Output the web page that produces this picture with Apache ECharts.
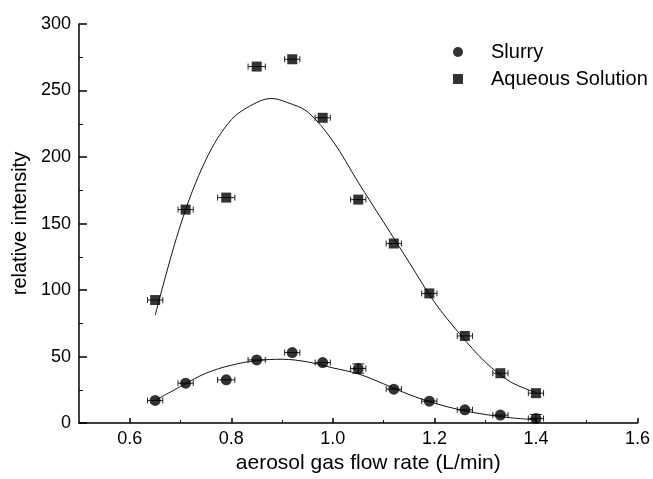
<!DOCTYPE html>
<html>
<head>
<meta charset="utf-8">
<script src="https://cdn.jsdelivr.net/npm/echarts@6/dist/echarts.min.js"></script>
<style>
html, body { margin: 0; padding: 0; background: #fff; }
#chart { width: 653px; height: 479px; }
</style>
</head>
<body>
<div id="chart"></div>
<script>
// measured points
var flowRate = [0.65, 0.71, 0.79, 0.85, 0.92, 0.98, 1.05, 1.12, 1.19, 1.26, 1.33, 1.40];
var slurry = [17, 30, 32.5, 47.5, 53, 45.5, 41, 25.5, 16.5, 10, 6, 3.5];
var aqueous = [92.5, 160.5, 169.5, 268, 273.5, 229.5, 168, 135, 97.5, 65.5, 37.5, 22.5];
var flowErr = [0.015, 0.015, 0.017, 0.017, 0.015, 0.015, 0.015, 0.015, 0.015, 0.015, 0.015, 0.015];
var slurryErr = [0, 0, 0, 0, 0, 0, 3.5, 0, 0, 0, 0, 3];
var aqueousErr = [0, 0, 0, 0, 0, 0, 0, 0, 0, 0, 0, 0];

// fitted curves
var slurryFitX = [0.65, 0.70, 0.75, 0.80, 0.85, 0.90, 0.95, 1.00, 1.05, 1.10, 1.15, 1.20, 1.25, 1.30, 1.35, 1.40];
var slurryFit = [17, 27.5, 37.5, 43.5, 47, 48, 46, 41.5, 37, 29.5, 21.5, 15, 10, 6.5, 4, 2.5];
var aqueousFitX = [0.65, 0.70, 0.75, 0.80, 0.85, 0.88, 0.91, 0.95, 1.00, 1.05, 1.10, 1.15, 1.20, 1.25, 1.30, 1.35, 1.40];
var aqueousFit = [81, 149, 198, 228, 241, 244, 241, 234, 212, 181, 151, 121, 91, 67, 46, 31, 23];

// axis ticks
var xMajor = [0.6, 0.8, 1.0, 1.2, 1.4, 1.6];
var xMinor = [0.7, 0.9, 1.1, 1.3, 1.5];

function pairs(xs, ys) {
	return xs.map(function(x, i) { return [x, ys[i]]; });
}
function errData(ys, yerr) {
	return flowRate.map(function(x, i) { return [x, ys[i], flowErr[i], yerr[i]]; });
}

function renderErr(params, api) {
	var x = api.value(0), y = api.value(1), dx = api.value(2), dy = api.value(3);
	var l = api.coord([x - dx, y]), r = api.coord([x + dx, y]);
	var st = { stroke: '#222', lineWidth: 1 };
	var kids = [
		{ type: 'line', shape: { x1: l[0], y1: l[1], x2: r[0], y2: r[1] }, style: st },
		{ type: 'line', shape: { x1: l[0], y1: l[1] - 3, x2: l[0], y2: l[1] + 3 }, style: st },
		{ type: 'line', shape: { x1: r[0], y1: r[1] - 3, x2: r[0], y2: r[1] + 3 }, style: st }
	];
	if (dy > 0) {
		var t = api.coord([x, y + dy]), b = api.coord([x, y - dy]);
		kids.push({ type: 'line', shape: { x1: t[0], y1: t[1], x2: b[0], y2: b[1] }, style: st });
		kids.push({ type: 'line', shape: { x1: t[0] - 6, y1: t[1], x2: t[0] + 6, y2: t[1] }, style: st });
		kids.push({ type: 'line', shape: { x1: b[0] - 6, y1: b[1], x2: b[0] + 6, y2: b[1] }, style: st });
	}
	return { type: 'group', children: kids };
}

var chart = echarts.init(document.getElementById('chart'));
var font = 'Liberation Sans, Arial, sans-serif';
var option = {
	animation: false,
	textStyle: { fontFamily: font, color: '#000' },
	grid: { left: 79, right: 13, top: 24, bottom: 54 },
	legend: {
		data: ['Slurry', 'Aqueous Solution'],
		orient: 'vertical',
		left: 453,
		top: 42,
		padding: 0,
		itemWidth: 10,
		itemHeight: 10,
		itemGap: 7,
		textStyle: { fontSize: 20, color: '#000', fontFamily: font, padding: [0, 0, 0, 23] }
	},
	xAxis: [{
		type: 'value',
		min: 0.5,
		max: 1.6,
		name: 'aerosol gas flow rate (L/min)',
		nameLocation: 'middle',
		nameGap: 29,
		nameTextStyle: { fontSize: 21, color: '#000', padding: [0, 0, 0, 20] },
		axisLine: { lineStyle: { color: '#000', width: 1.5 } },
		axisTick: { inside: true, length: 5, customValues: xMajor, lineStyle: { color: '#000', width: 1.5 } },
		axisLabel: { customValues: xMajor, fontSize: 18, color: '#000', margin: 7,
			formatter: function(v) { return v.toFixed(1); } },
		splitLine: { show: false }
	}, {
		type: 'value',
		min: 0.5,
		max: 1.6,
		position: 'bottom',
		axisLine: { show: false },
		axisTick: { inside: true, length: 3, customValues: xMinor, lineStyle: { color: '#000', width: 1 } },
		axisLabel: { show: false },
		splitLine: { show: false }
	}],
	yAxis: {
		type: 'value',
		min: 0,
		max: 300,
		interval: 50,
		name: 'relative intensity',
		nameLocation: 'middle',
		nameGap: 49,
		nameTextStyle: { fontSize: 20, color: '#000' },
		axisLine: { show: true, lineStyle: { color: '#000', width: 1.5 } },
		axisTick: { show: true, inside: true, length: 8, lineStyle: { color: '#000', width: 1.5 } },
		minorTick: { show: true, splitNumber: 2, length: 4, lineStyle: { color: '#000', width: 1 } },
		axisLabel: { fontSize: 18, color: '#000', margin: 8 },
		splitLine: { show: false }
	},
	series: [{
		name: 'slurry fit',
		type: 'line',
		data: pairs(slurryFitX, slurryFit),
		smooth: 0.35,
		showSymbol: false,
		lineStyle: { color: '#111', width: 1 },
		silent: true
	}, {
		name: 'aqueous fit',
		type: 'line',
		data: pairs(aqueousFitX, aqueousFit),
		smooth: 0.35,
		showSymbol: false,
		lineStyle: { color: '#111', width: 1 },
		silent: true
	}, {
		name: 'slurry err',
		type: 'custom',
		renderItem: renderErr,
		data: errData(slurry, slurryErr),
		z: 3
	}, {
		name: 'aqueous err',
		type: 'custom',
		renderItem: renderErr,
		data: errData(aqueous, aqueousErr),
		z: 3
	}, {
		name: 'Slurry',
		type: 'scatter',
		symbol: 'circle',
		symbolSize: 11,
		data: pairs(flowRate, slurry),
		itemStyle: { color: '#000' },
		z: 4
	}, {
		name: 'Aqueous Solution',
		type: 'scatter',
		symbol: 'rect',
		symbolSize: 10,
		data: pairs(flowRate, aqueous),
		itemStyle: { color: '#000' },
		z: 4
	}]
};
chart.setOption(option);
</script>
</body>
</html>
